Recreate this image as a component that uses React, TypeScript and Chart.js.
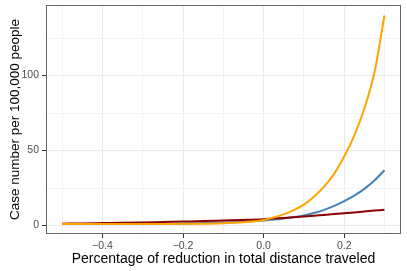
import React, { useEffect, useRef } from "react";
import { Chart, registerables } from "chart.js";

Chart.register(...registerables);

const xValues = [
  -0.5, -0.45, -0.4, -0.35, -0.3, -0.25, -0.2, -0.15, -0.1, -0.05,
  0, 0.025, 0.05, 0.075, 0.1, 0.125, 0.15, 0.175, 0.2, 0.225, 0.25, 0.275, 0.3,
];
const orangeSeries = [
  1.1, 1.1, 1.1, 1.1, 1.1, 1.1, 1.15, 1.25, 1.5, 2.2,
  3.8, 5.4, 7.5, 10.3, 14, 19.3, 26, 34.5, 46, 60, 78, 102, 140,
];
const blueSeries = [
  1.0, 1.0, 1.05, 1.1, 1.2, 1.3, 1.45, 1.65, 2.0, 2.6,
  3.4, 4.0, 4.8, 5.7, 6.8, 8.4, 10.5, 13.1, 16.3, 20.0, 24.5, 30.0, 36.9,
];
const redSeries = [
  1.3, 1.45, 1.65, 1.85, 2.1, 2.4, 2.7, 3.0, 3.4, 3.8,
  4.3, 4.7, 5.1, 5.55, 6.0, 6.55, 7.1, 7.65, 8.2, 8.8, 9.4, 10.0, 10.6,
];

const xTicks = [-0.5, -0.4, -0.3, -0.2, -0.1, 0, 0.1, 0.2, 0.3];
const yTicks = [0, 25, 50, 75, 100, 125];

const xTitle = "Percentage of reduction in total distance traveled";
const yTitle = "Case number per 100,000 people";

const FONT = "'Liberation Sans', Arial, Helvetica, sans-serif";

const isMajorX = (v: number) => Math.abs(Math.round(v * 10)) % 2 === 0;
const isMajorY = (v: number) => Math.round(v) % 50 === 0;
const fmtX = (v: number) => (Math.abs(v) < 1e-9 ? 0 : v).toFixed(1).replace("-", "\u2212");

export default function App() {
  const ref = useRef<HTMLCanvasElement>(null);

  useEffect(() => {
    const canvas = ref.current;
    if (!canvas) return;

    const borderPlugin = {
      id: "panelBorder",
      afterDraw(chart: any) {
        const { ctx, chartArea } = chart;
        ctx.save();
        ctx.strokeStyle = "#666666";
        ctx.lineWidth = 1;
        ctx.strokeRect(
          Math.round(chartArea.left) + 0.5,
          Math.round(chartArea.top) + 0.5,
          Math.round(chartArea.right - chartArea.left) - 1,
          Math.round(chartArea.bottom - chartArea.top) - 1
        );
        ctx.restore();
      },
    };

    const mk = (ys: number[]) => xValues.map((x, i) => ({ x, y: ys[i] }));

    const chart = new Chart(canvas, {
      type: "line",
      data: {
        datasets: [
          {
            label: "orange",
            data: mk(orangeSeries),
            borderColor: "#FFA500",
            borderWidth: 2,
            pointRadius: 0,
            cubicInterpolationMode: "monotone",
            order: 0,
          },
          {
            label: "darkred",
            data: mk(redSeries),
            borderColor: "#8B0000",
            borderWidth: 2,
            pointRadius: 0,
            cubicInterpolationMode: "monotone",
            order: 1,
          },
          {
            label: "steelblue",
            data: mk(blueSeries),
            borderColor: "#4682B4",
            borderWidth: 2,
            pointRadius: 0,
            cubicInterpolationMode: "monotone",
            order: 2,
          },
        ],
      },
      options: {
        animation: false,
        responsive: false,
        maintainAspectRatio: false,
        layout: { padding: { top: 5, right: 6, left: 0, bottom: 0 } },
        plugins: {
          legend: { display: false },
          tooltip: { enabled: false },
        },
        scales: {
          x: {
            type: "linear",
            min: -0.54,
            max: 0.341,
            afterBuildTicks: (scale: any) => {
              scale.ticks = xTicks.map((v) => ({ value: v }));
            },
            afterFit: (scale: any) => {
              scale.height = 37;
              scale.paddingLeft = 0;
              scale.paddingRight = 0;
            },
            border: { display: false },
            grid: {
              color: (c: any) => (c.tick && isMajorX(c.tick.value) ? "#EBEBEB" : "#F3F3F3"),
              lineWidth: 1,
              tickLength: 4,
              tickColor: (c: any) => (c.tick && isMajorX(c.tick.value) ? "#333333" : "rgba(0,0,0,0)"),
            },
            ticks: {
              autoSkip: false,
              maxRotation: 0,
              padding: 2,
              color: "#4D4D4D",
              font: { family: FONT, size: 10.5 },
              callback: (v: any) => (isMajorX(Number(v)) ? fmtX(Number(v)) : ""),
            },
            title: {
              display: true,
              text: xTitle,
              color: "#000000",
              font: { family: FONT, size: 14 },
              padding: { top: 0, bottom: 3 },
            },
          },
          y: {
            type: "linear",
            min: -5.6,
            max: 147,
            afterBuildTicks: (scale: any) => {
              scale.ticks = yTicks.map((v) => ({ value: v }));
            },
            afterFit: (scale: any) => {
              scale.width = 46;
              scale.paddingTop = 0;
              scale.paddingBottom = 0;
            },
            border: { display: false },
            grid: {
              color: (c: any) => (c.tick && isMajorY(c.tick.value) ? "#EBEBEB" : "#F3F3F3"),
              lineWidth: 1,
              tickLength: 4,
              tickColor: (c: any) => (c.tick && isMajorY(c.tick.value) ? "#333333" : "rgba(0,0,0,0)"),
            },
            ticks: {
              autoSkip: false,
              padding: 3,
              color: "#4D4D4D",
              font: { family: FONT, size: 10.5 },
              callback: (v: any) => (isMajorY(Number(v)) ? String(Math.round(Number(v))) : ""),
            },
            title: {
              display: true,
              text: yTitle,
              color: "#000000",
              font: { family: FONT, size: 13.5 },
              padding: { top: 7, bottom: 0 },
            },
          },
        },
      },
      plugins: [borderPlugin],
    } as any);

    return () => chart.destroy();
  }, []);

  return (
    <div style={{ position: "absolute", left: 0, top: 0, width: 407, height: 271, background: "#ffffff" }}>
      <canvas ref={ref} width={407} height={271} style={{ width: 407, height: 271, display: "block" }} />
    </div>
  );
}
